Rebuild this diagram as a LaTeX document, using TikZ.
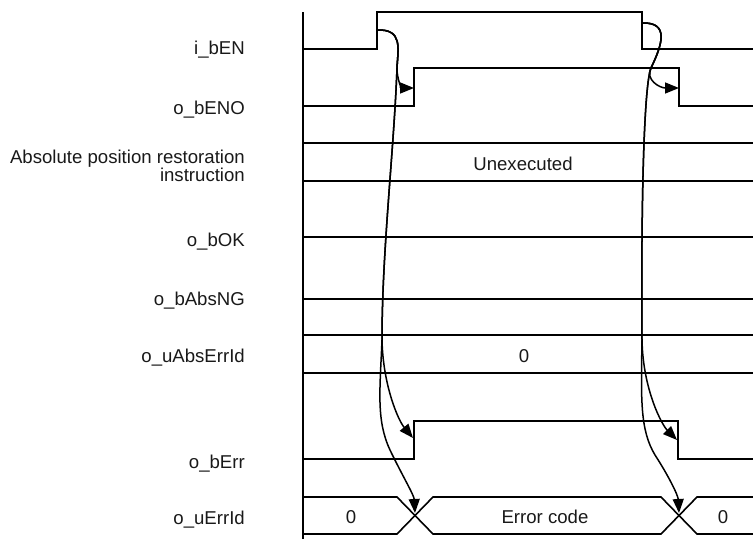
\documentclass[tikz,border=0pt]{standalone}
\usepackage{fontspec}
\setmainfont{Liberation Sans}
\usetikzlibrary{arrows.meta}
\begin{document}
\begin{tikzpicture}[x=1pt,y=-1pt,
  sig/.style={line width=1.6pt,line join=miter},
  flow/.style={line width=1.5pt,-{Triangle[length=14pt,width=11pt]}},
  lbl/.style={anchor=east,inner sep=0pt,font=\fontsize{18.6}{18}\selectfont,text=black!90},
  val/.style={inner sep=0pt,font=\fontsize{18.6}{18}\selectfont,text=black!90}]
\useasboundingbox (0,0) rectangle (753,539);
% labels
\node[lbl] (l1) at (245,50) {i\_bEN};
\node[lbl] (l2) at (245,110) {o\_bENO};
\node[lbl,align=right,font=\fontsize{18.6}{17}\selectfont] (l3) at (245,166) {Absolute position restoration\\instruction};
\node[lbl] (l4) at (245,242) {o\_bOK};
\node[lbl] (l5) at (245,301) {o\_bAbsNG};
\node[lbl] (l6) at (245,358) {o\_uAbsErrId};
\node[lbl] (l7) at (245,464) {o\_bErr};
\node[lbl] (l8) at (245,520) {o\_uErrId};
% axis
\draw[sig] (303,12) -- (303,539);
% i_bEN
\draw[sig] (303,49) -- (377,49) -- (377,12) -- (642,12) -- (642,49) -- (753,49);
% o_bENO
\draw[sig] (303,106) -- (414,106) -- (414,68) -- (679,68) -- (679,106) -- (753,106);
% rows
\draw[sig] (303,143) -- (753,143);
\draw[sig] (303,181) -- (753,181);
\draw[sig] (303,237) -- (753,237);
\draw[sig] (303,299) -- (753,299);
\draw[sig] (303,335) -- (753,335);
\draw[sig] (303,373) -- (753,373);
\node[val] (unex) at (523,164) {Unexecuted};
\node[val] (abs0) at (524,356) {0};
% o_bErr
\draw[sig] (303,459) -- (414,459) -- (414,421) -- (678,421) -- (678,459) -- (753,459);
% o_uErrId bus
\draw[sig] (303,497) -- (397,497) -- (433,534) -- (661,534) -- (697,497) -- (753,497);
\draw[sig] (303,534) -- (397,534) -- (433,497) -- (661,497) -- (697,534) -- (753,534);
\node[val] (e0a) at (351,517) {0};
\node[val] (ecode) at (545,517) {Error code};
\node[val] (e0b) at (723,517) {0};
% anchor coordinates
\coordinate (sL) at (377,30);
\coordinate (mL) at (397,68);
\coordinate (kL) at (382,340);
\coordinate (tA) at (414,88);
\coordinate (tB) at (413,438);
\coordinate (tC) at (415,513);
\coordinate (sR) at (642,23);
\coordinate (mR) at (651,68);
\coordinate (kR) at (642,340);
\coordinate (uA) at (679,88);
\coordinate (uB) at (677,440);
\coordinate (uC) at (679,513);
% left flows
\draw[flow] (sL) .. controls (403,29) and (398,48) .. (mL) .. controls (397,80) and (402,88) .. (tA);
\draw[flow] (sL) .. controls (403,29) and (398,48) .. (mL) .. controls (394,150) and (382,250) .. (kL) .. controls (383,385) and (398,420) .. (tB);
\draw[flow] (sL) .. controls (403,29) and (398,48) .. (mL) .. controls (394,150) and (382,250) .. (kL) .. controls (380,390) and (376,420) .. (390,450) .. controls (402,475) and (414,495) .. (tC);
% right flows
\draw[flow] (sR) .. controls (670,22) and (662,45) .. (mR) .. controls (645,80) and (660,88) .. (uA);
\draw[flow] (sR) .. controls (670,22) and (662,45) .. (mR) .. controls (644,85) and (641,200) .. (kR) .. controls (643,390) and (662,425) .. (uB);
\draw[flow] (sR) .. controls (670,22) and (662,45) .. (mR) .. controls (644,85) and (641,200) .. (kR) .. controls (641,400) and (640,430) .. (655,455) .. controls (668,475) and (678,495) .. (uC);
\end{tikzpicture}
\end{document}
